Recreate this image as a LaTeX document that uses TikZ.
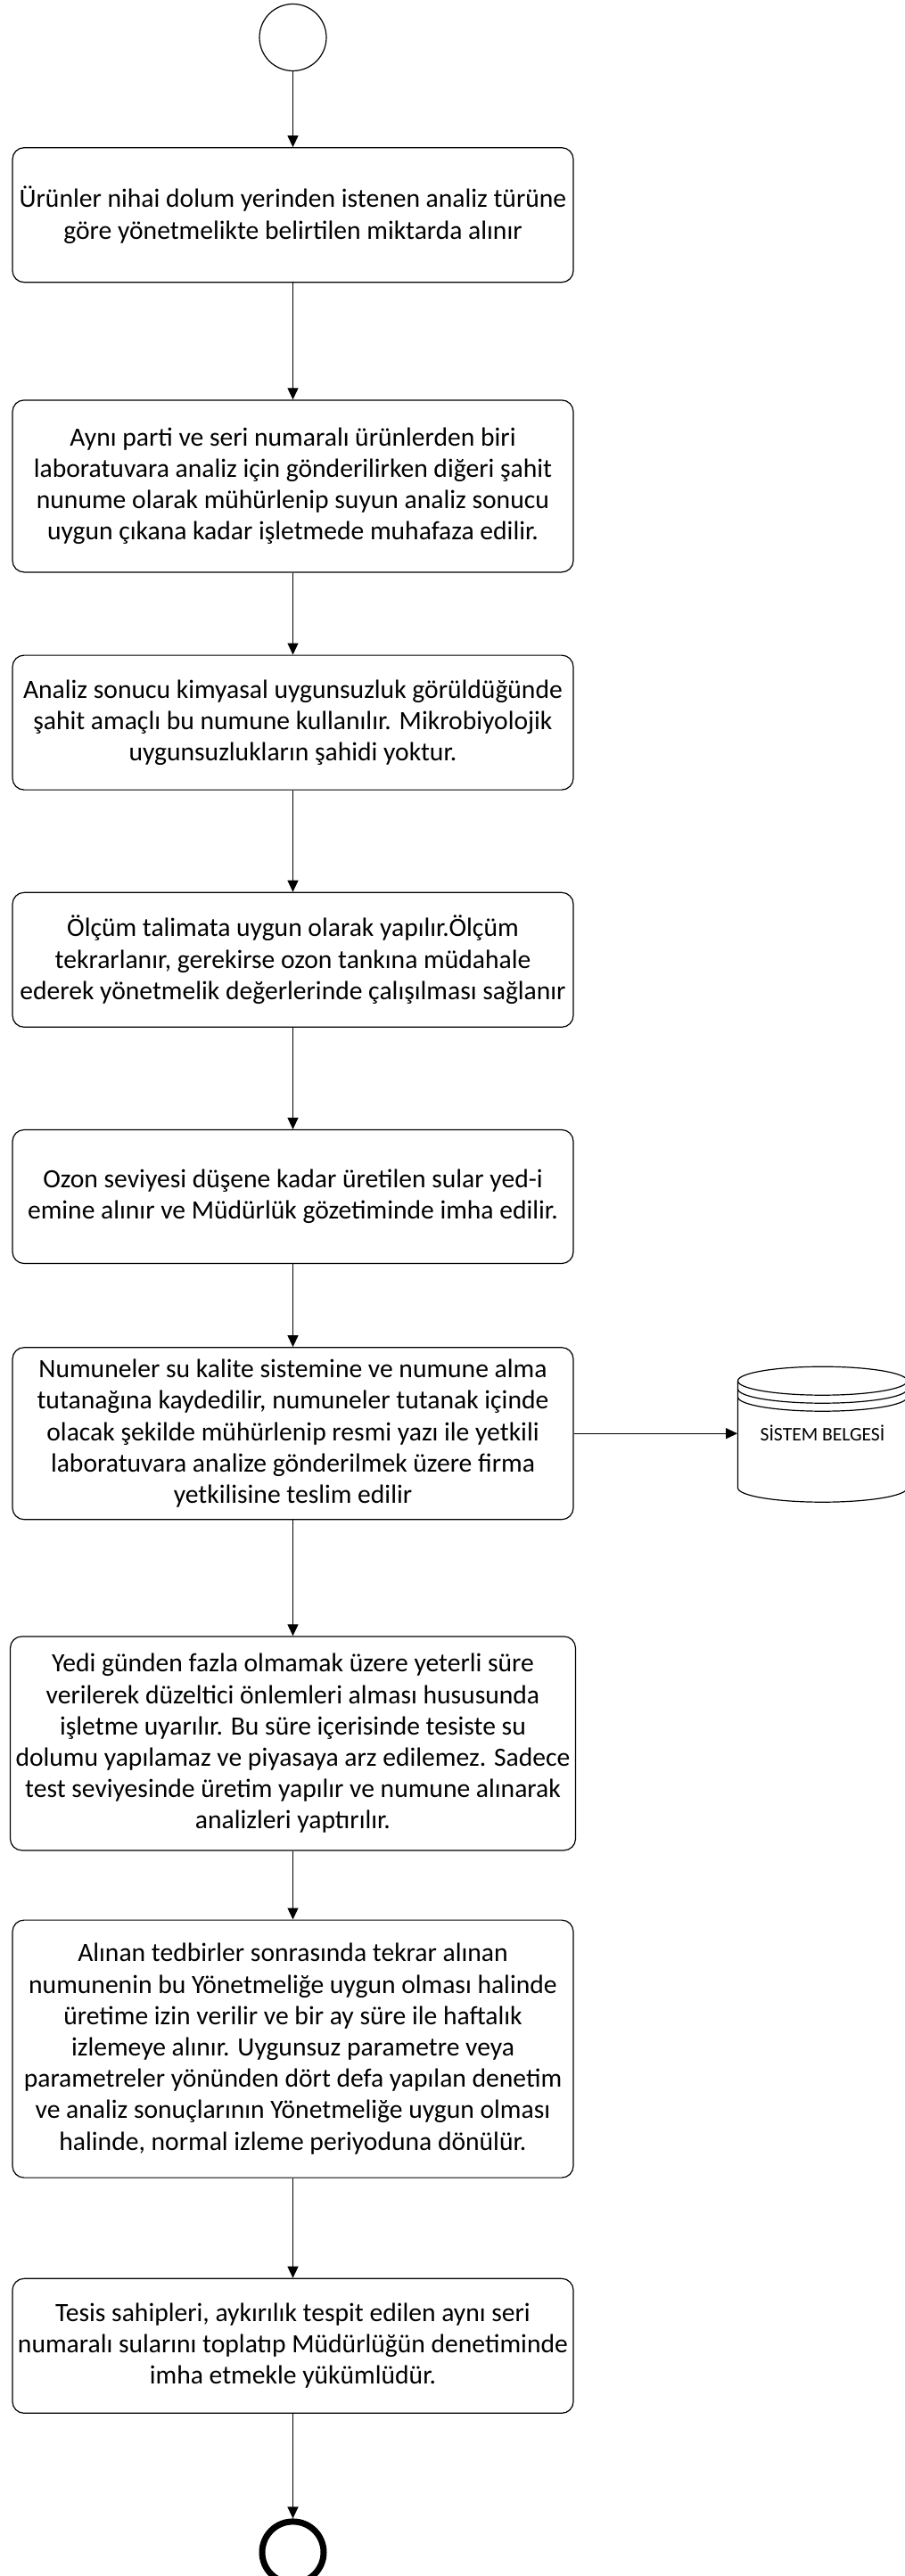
\documentclass[tikz,border=0pt]{standalone}
\usepackage{fontspec}
\setmainfont{Carlito}
\usepackage{tikz}
\usetikzlibrary{arrows.meta,positioning,calc}

\begin{document}
\begin{tikzpicture}[font=\fontsize{14.8pt}{17.6pt}\selectfont,
proc/.style={draw,line width=0.6pt,rounded corners=6.5pt,minimum width=314.5pt,align=center,inner sep=3pt},
startev/.style={circle,draw,line width=0.6pt,minimum size=37.5pt,inner sep=0pt},
endev/.style={circle,draw,line width=3.5pt,minimum size=34.5pt,inner sep=0pt},
dbtext/.style={minimum width=95pt,minimum height=60pt,inner sep=0pt,font=\fontsize{10.8pt}{13pt}\selectfont},
arr/.style={line width=0.6pt,-{Triangle[length=6.5pt,width=6pt]}}]
\useasboundingbox (0,0) rectangle (507pt,-1445pt);
\node[startev] (start) at (164.25pt,-21pt) {};
\node[proc,minimum height=75.5pt,below=42.5pt of start] (alim) {Ürünler nihai dolum yerinden istenen analiz türüne\\göre yönetmelikte belirtilen miktarda alınır};
\node[proc,minimum height=96.5pt,below=65.5pt of alim] (sahit) {Aynı parti ve seri numaralı ürünlerden biri\\laboratuvara analiz için gönderilirken diğeri şahit\\nunume olarak mühürlenip suyun analiz sonucu\\uygun çıkana kadar işletmede muhafaza edilir.};
\node[proc,minimum height=75.5pt,below=46pt of sahit] (kimyasal) {Analiz sonucu kimyasal uygunsuzluk görüldüğünde\\şahit amaçlı bu numune kullanılır. Mikrobiyolojik\\uygunsuzlukların şahidi yoktur.};
\node[proc,minimum height=75.5pt,below=57pt of kimyasal] (olcum) {Ölçüm talimata uygun olarak yapılır.Ölçüm\\tekrarlanır, gerekirse ozon tankına müdahale\\ederek yönetmelik değerlerinde çalışılması sağlanır};
\node[proc,minimum height=75pt,below=57pt of olcum] (ozon) {Ozon seviyesi düşene kadar üretilen sular yed-i\\emine alınır ve Müdürlük gözetiminde imha edilir.};
\node[proc,minimum height=96.5pt,below=46.5pt of ozon] (kayit) {Numuneler su kalite sistemine ve numune alma\\tutanağına kaydedilir, numuneler tutanak içinde\\olacak şekilde mühürlenip resmi yazı ile yetkili\\laboratuvara analize gönderilmek üzere firma\\yetkilisine teslim edilir};
\node[proc,minimum height=120pt,below=65pt of kayit] (uyari) {Yedi günden fazla olmamak üzere yeterli süre\\verilerek düzeltici önlemleri alması hususunda\\işletme uyarılır. Bu süre içerisinde tesiste su\\dolumu yapılamaz ve piyasaya arz edilemez. Sadece\\test seviyesinde üretim yapılır ve numune alınarak\\analizleri yaptırılır.};
\node[proc,minimum height=144.5pt,below=38.5pt of uyari] (izleme) {Alınan tedbirler sonrasında tekrar alınan\\numunenin bu Yönetmeliğe uygun olması halinde\\üretime izin verilir ve bir ay süre ile haftalık\\izlemeye alınır. Uygunsuz parametre veya\\parametreler yönünden dört defa yapılan denetim\\ve analiz sonuçlarının Yönetmeliğe uygun olması\\halinde, normal izleme periyoduna dönülür.};
\node[proc,minimum height=75.5pt,below=56pt of izleme] (toplama) {Tesis sahipleri, aykırılık tespit edilen aynı seri\\numaralı sularını toplatıp Müdürlüğün denetiminde\\imha etmekle yükümlüdür.};
\node[endev,below=58.75pt of toplama] (finish) {};
\node[dbtext,right=91.75pt of kayit] (belge) {SİSTEM BELGESİ};
% database drum
\draw[line width=0.6pt] ($(belge.center)+(-47.5pt,29.5pt)$) -- ++(0,-60pt) arc[start angle=180,end angle=360,x radius=47.5pt,y radius=8pt] -- ++(0,60pt);
\draw[line width=0.6pt] ($(belge.center)+(0,29.5pt)$) ellipse[x radius=47.5pt,y radius=8pt];
\draw[line width=0.6pt] ($(belge.center)+(-47.5pt,25pt)$) arc[start angle=180,end angle=360,x radius=47.5pt,y radius=8pt];
\draw[line width=0.6pt] ($(belge.center)+(-47.5pt,20.5pt)$) arc[start angle=180,end angle=360,x radius=47.5pt,y radius=8pt];
\draw[arr] (start)--(alim);
\draw[arr] (alim)--(sahit);
\draw[arr] (sahit)--(kimyasal);
\draw[arr] (kimyasal)--(olcum);
\draw[arr] (olcum)--(ozon);
\draw[arr] (ozon)--(kayit);
\draw[arr] (kayit)--(uyari);
\draw[arr] (uyari)--(izleme);
\draw[arr] (izleme)--(toplama);
\draw[arr] (toplama)--(finish);
\draw[arr] (kayit)--(belge);
\end{tikzpicture}
\end{document}
